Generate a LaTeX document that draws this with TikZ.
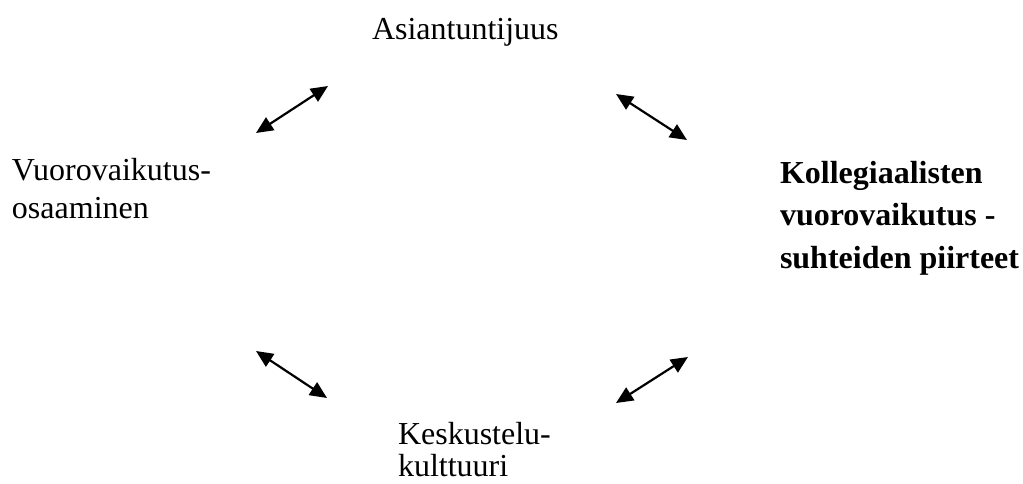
\documentclass[tikz,border=0pt]{standalone}
\usepackage{fontspec}
\setmainfont{Liberation Serif}
\usetikzlibrary{arrows.meta}
\begin{document}
\begin{tikzpicture}[x=1pt,y=-1pt,
  label text/.style={inner sep=0pt, outer sep=0pt, anchor=base west, align=left,
    font=\fontsize{32}{36}\selectfont},
  link/.style={line width=2.2pt, {Triangle[length=17pt,width=15pt]}-{Triangle[length=17pt,width=15pt]}}]
  \useasboundingbox (0,0) rectangle (1023,484);

  % labels (multi-line nodes are placed by the baseline of their last line)
  \node[label text] (expert) at (372,40) {Asiantuntijuus};
  \node[label text, font=\fontsize{32}{37}\selectfont] (skills) at (12,218) {Vuorovaikutus-\\osaaminen};
  \node[label text, font=\fontsize{32}{42.5}\selectfont\bfseries] (core) at (780,268)
    {Kollegiaalisten\\vuorovaikutus -\\suhteiden piirteet};
  \node[label text, font=\fontsize{32}{32}\selectfont] (culture) at (398,476) {Keskustelu-\\kulttuuri};

  % arrow end points
  \coordinate (a1) at (256,133); \coordinate (b1) at (328,86);
  \coordinate (a2) at (616,94);  \coordinate (b2) at (687,140);
  \coordinate (a3) at (256,351); \coordinate (b3) at (327,398);
  \coordinate (a4) at (616,403); \coordinate (b4) at (688,357);

  \draw[link] (a1) -- (b1);
  \draw[link] (a2) -- (b2);
  \draw[link] (a3) -- (b3);
  \draw[link] (a4) -- (b4);
\end{tikzpicture}
\end{document}
